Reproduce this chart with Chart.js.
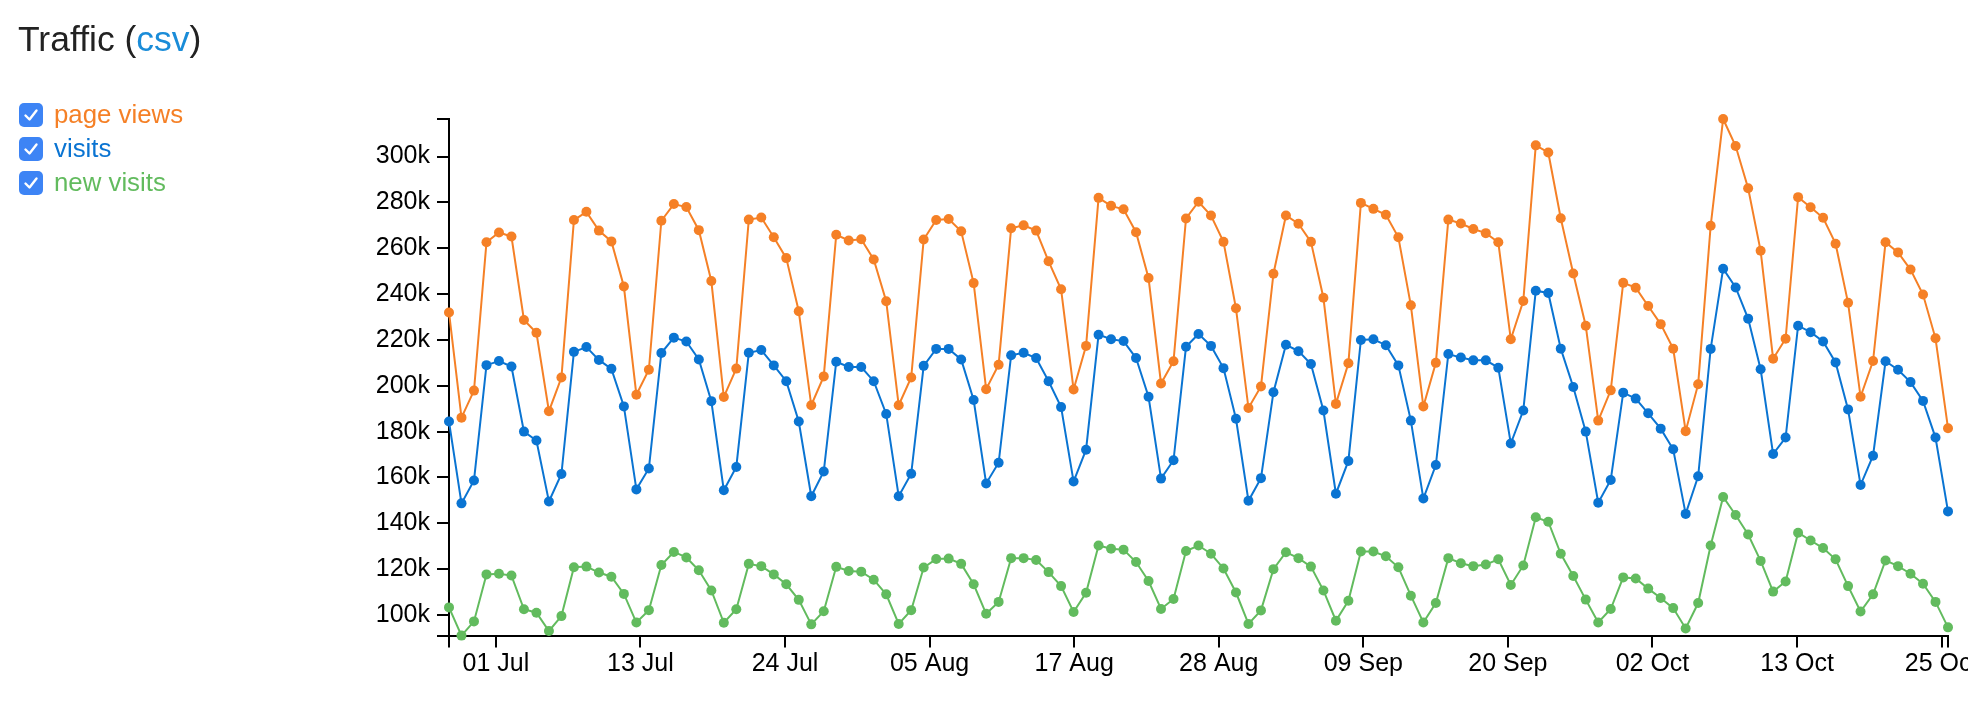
<!DOCTYPE html>
<html>
<head>
<meta charset="utf-8">
<script src="https://cdn.jsdelivr.net/npm/chart.js@4/dist/chart.umd.min.js"></script>
<style>
  html, body { margin: 0; padding: 0; background: #fff; width: 1984px; height: 706px; overflow: hidden; }
  body { font-family: "Liberation Sans", Arial, Helvetica, sans-serif; position: relative; }
  #title { position: absolute; left: 18px; top: 22px; font-size: 35.5px; line-height: 1; color: #222; white-space: nowrap; z-index: 2; }
  #title span { color: #1a8cd8; }
  .item { position: absolute; left: 19px; height: 24px; z-index: 2; white-space: nowrap; }
  .box { position: absolute; left: 0; top: 0; width: 24px; height: 24px; border-radius: 5px; background: #3d84f5; }
  .box svg { position: absolute; left: 0; top: 0; }
  .lbl { position: absolute; left: 35px; top: -4px; font-size: 25.8px; line-height: 1.2; }
  #wrap { position: absolute; left: 0; top: 0; width: 1968px; height: 706px; overflow: hidden; z-index: 1; }
  #inner { position: absolute; left: 0; top: 0; width: 1990px; height: 706px; }
</style>
</head>
<body>
<div id="title">Traffic (<span>csv</span>)</div>
<div id="legend"></div>
<div id="wrap"><div id="inner"><canvas id="c" width="1990" height="706"></canvas></div></div>
<script>
// ---- data ----
const firstDayLocalMidnightUTC = Date.UTC(2010, 5, 27, 22, 0); // 28 Jun 2010, 00:00 (UTC+2)
const DAY_MS = 86400000;
const X_TICK_STEP = 1e9; // ms

const seriesNames = ["page views", "visits", "new visits"];
const seriesColors = ["#f58026", "#0a74d2", "#62bb5e"];

const pageViews = [
  232000,186100,197900,262600,266900,265100,228700,223100,188900,203600,272300,275900,267700,263000,243300,196100,207000,272000,279300,278000,267900,245700,195100,207500,272500,
  273400,264800,255700,232500,191500,204100,265900,263400,263900,255100,236900,191500,203600,263800,272300,272800,267400,244800,198500,209200,268700,270000,267700,254300,
  242100,198400,217400,282000,278500,277000,267000,247000,201000,210700,273000,280300,274300,262800,233800,190300,199700,248900,274300,270700,262800,238400,192100,209800,
  279800,277200,274600,264800,235100,191000,210000,272500,270800,268400,266600,262600,220300,237000,304900,301800,273100,249000,226200,184800,198000,244900,242800,234800,
  226900,216200,180200,200700,269800,316400,304600,286200,258900,211800,220500,282300,277900,273300,262000,236200,195200,210800,262600,258200,250700,239800,220700,181500
];
const visits = [
  184400,148700,158700,209000,210800,208400,180000,176100,149500,161500,214800,216900,211300,207400,191000,154800,163900,214300,221000,219300,211500,193300,154400,164600,214400,
  215600,208900,202000,184400,151800,162600,210500,208200,208200,202000,187700,151800,161600,208700,216100,216100,211500,193800,157400,166400,213300,214400,212100,202000,
  190700,158200,172100,222300,220300,219500,212100,195200,159500,167500,217000,222600,217400,207700,185600,149800,159700,197200,217900,215100,209500,189200,152900,167200,
  220000,220300,217700,208900,184800,150800,165400,213900,212300,211100,211100,207900,174800,189200,241500,240500,216200,199500,180000,149000,158900,197000,194400,188000,
  181300,172300,144100,160500,216100,251100,242900,229300,207200,170200,177400,226200,223400,219300,210200,189700,156700,169500,210700,207000,201600,193400,177400,145200
];
const newVisits = [
  103300,91000,97200,117700,118000,117200,102500,101000,93000,99500,120800,121100,118500,116700,109200,96700,102100,121800,127500,125100,119500,110700,96600,102500,122300,
  121300,117700,113400,106600,95900,101600,121000,119200,118900,115400,109000,96100,102100,120700,124400,124600,122300,113400,100500,105700,124800,124800,124000,118700,
  112600,101300,109700,130300,128900,128500,123100,114800,102600,107000,127900,130300,126700,120300,109800,96100,102000,120000,127400,124800,121100,110700,97500,106200,
  127700,127700,125600,120800,108400,96700,105200,124800,122600,121300,122000,124300,113100,121600,142600,140700,126700,117000,106700,96700,102600,116400,115900,111500,
  107400,103000,94100,105200,130300,151500,143600,135100,123600,110200,114600,135900,132500,129200,124300,112600,101500,109000,123800,121300,118000,113600,105700,94600
];
const xTickLabels = ["01 Jul","13 Jul","24 Jul","05 Aug","17 Aug","28 Aug","09 Sep","20 Sep","02 Oct","13 Oct","25 Oct"];
const yTickValues = [100000,120000,140000,160000,180000,200000,220000,240000,260000,280000,300000];

// ---- legend (HTML) ----
const legendTops = [103, 137, 171];
const legend = document.getElementById('legend');
seriesNames.forEach((n, i) => {
  const d = document.createElement('div');
  d.className = 'item';
  d.style.top = legendTops[i] + 'px';
  d.innerHTML = '<div class="box"><svg width="24" height="24" viewBox="0 0 24 24"><path d="M6.5 12.5 L10.5 16.5 L17.5 7.5" fill="none" stroke="#fff" stroke-width="2.4" stroke-linecap="round" stroke-linejoin="round"/></svg></div>' +
    '<div class="lbl" style="color:' + seriesColors[i] + '">' + n + '</div>';
  legend.appendChild(d);
});

// ---- chart ----
const xs = pageViews.map((_, i) => firstDayLocalMidnightUTC + i * DAY_MS);
const allVals = pageViews.concat(visits, newVisits);
const yMin = Math.min(...allVals), yMax = Math.max(...allVals);
const xMin = xs[0], xMax = xs[xs.length - 1];

function ds(label, vals, color) {
  return {
    label, data: vals.map((v, i) => ({ x: xs[i], y: v })),
    borderColor: color, backgroundColor: color, borderWidth: 2,
    pointRadius: 5, pointBackgroundColor: color, pointBorderWidth: 0, pointHoverRadius: 5,
    tension: 0, clip: false, fill: false
  };
}

const tickFont = { family: '"Liberation Sans", Arial, Helvetica, sans-serif', size: 25 };
const axisCommon = {
  grid: { display: true, drawOnChartArea: false, drawTicks: true, tickLength: 12, color: '#000', lineWidth: 2 },
  border: { display: true, color: '#000', width: 2 }
};

new Chart(document.getElementById('c'), {
  type: 'line',
  data: { datasets: [ds(seriesNames[0], pageViews, seriesColors[0]), ds(seriesNames[1], visits, seriesColors[1]), ds(seriesNames[2], newVisits, seriesColors[2])] },
  options: {
    responsive: false, animation: false, devicePixelRatio: 1,
    layout: { padding: { left: 0, right: 42, top: 119, bottom: 0 } },
    plugins: { legend: { display: false }, tooltip: { enabled: false } },
    scales: {
      x: {
        type: 'linear', min: xMin, max: xMax, ...axisCommon,
        ticks: {
          autoSkip: false, maxRotation: 0, minRotation: 0, padding: 2, color: '#000', font: tickFont,
          callback: (v, i, arr) => (i === 0 || i === arr.length - 1) ? '' : xTickLabels[i - 1]
        },
        afterBuildTicks: (s) => {
          const t = [{ value: xMin }];
          for (let v = Math.ceil(xMin / X_TICK_STEP) * X_TICK_STEP; v <= xMax; v += X_TICK_STEP) t.push({ value: v });
          t.push({ value: xMax });
          s.ticks = t;
        },
        afterFit: (s) => { s.height = 70.4; s.paddingLeft = 0; s.paddingRight = 0; }
      },
      y: {
        type: 'linear', min: yMin, max: yMax, ...axisCommon,
        ticks: {
          autoSkip: false, padding: 7, color: '#000', font: tickFont,
          callback: (v) => yTickValues.includes(v) ? (v / 1000) + 'k' : ''
        },
        afterBuildTicks: (s) => { s.ticks = [yMin, ...yTickValues, yMax].map(v => ({ value: v })); },
        afterFit: (s) => { s.width = 449; s.paddingTop = 0; s.paddingBottom = 0; }
      }
    }
  }
});
</script>
</body>
</html>
